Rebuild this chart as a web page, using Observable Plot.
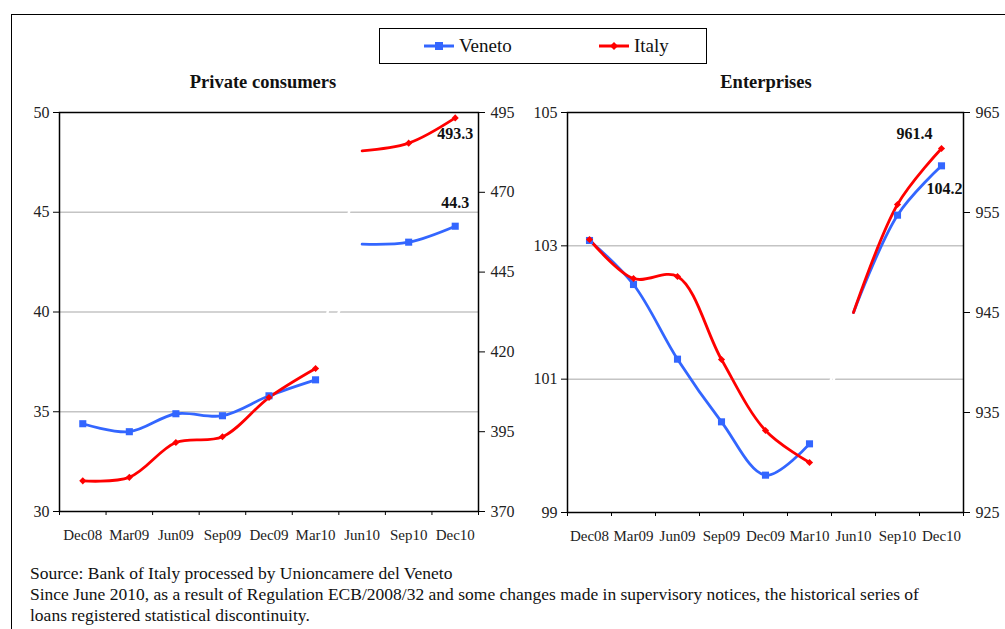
<!DOCTYPE html>
<html>
<head>
<meta charset="utf-8">
<script src="https://cdn.jsdelivr.net/npm/d3@7"></script>
<script src="https://cdn.jsdelivr.net/npm/@observablehq/plot@0.6"></script>
<style>
  html, body { margin: 0; padding: 0; background: #fff; }
  body { width: 1005px; height: 629px; position: relative; overflow: hidden; font-family: "Liberation Serif", "DejaVu Serif", serif; color: #111; }
  #outer { position: absolute; left: 11px; top: 14px; width: 1100px; height: 700px; border: 1.5px solid #000; box-sizing: border-box; }
  #legend { position: absolute; left: 379px; top: 28px; width: 328px; height: 36px; border: 1.5px solid #000; box-sizing: border-box; }
  .leg { position: absolute; top: 6px; font-size: 19px; display: flex; align-items: center; }
  .title { position: absolute; top: 72px; font-size: 18.5px; font-weight: bold; transform: translateX(-50%); white-space: nowrap; }
  .panel { position: absolute; top: 100px; }
  #notes { position: absolute; left: 30px; top: 563px; font-size: 17.5px; line-height: 21px; white-space: nowrap; }
</style>
</head>
<body>
<div id="outer"></div>
<div id="legend"></div>
<div class="title" style="left:263px">Private consumers</div>
<div class="title" style="left:766px">Enterprises</div>
<div id="left" class="panel" style="left:0px"></div>
<div id="right" class="panel" style="left:500px"></div>
<div id="notes"></div>
<script>
// ---- data ----
const months = ["Dec08","Mar09","Jun09","Sep09","Dec09","Mar10","Jun10","Sep10","Dec10"];
const seriesNames = ["Veneto", "Italy"];
const seriesColors = ["#3366ff", "#ff0000"];
// Private consumers: Veneto (left axis), Italy (right axis)
const consVeneto = [34.4, 34.0, 34.9, 34.8, 35.8, 36.6, 43.4, 43.5, 44.3];
const consItaly  = [379.6, 380.7, 391.6, 393.4, 405.7, 414.8, 483.0, 485.4, 493.3];
const consLeftTicks = [30, 35, 40, 45, 50];
const consRightTicks = [370, 395, 420, 445, 470, 495];
// Enterprises: Veneto (left axis), Italy (right axis)
const entVeneto = [103.08, 102.42, 101.3, 100.36, 99.56, 100.03, 102.0, 103.46, 104.2];
const entItaly  = [952.3, 948.4, 948.6, 940.3, 933.2, 930.0, 945.0, 955.8, 961.4];
const entLeftTicks = [99, 101, 103, 105];
const entRightTicks = [925, 935, 945, 955, 965];
const breakIndex = 6; // statistical discontinuity from Jun10
const consLabels = {veneto: "44.3", italy: "493.3"};
const entLabels = {veneto: "104.2", italy: "961.4"};
const notes = [
  "Source: Bank of Italy processed by Unioncamere del Veneto",
  "Since June 2010, as a result of Regulation ECB/2008/32 and some changes made in supervisory notices, the historical series of",
  "loans registered statistical discontinuity."
];

// ---- legend ----
const legend = document.getElementById("legend");
const legPos = [44, 219];
seriesNames.forEach((name, k) => {
  const d = document.createElement("div");
  d.className = "leg";
  d.style.left = legPos[k] + "px";
  const sym = k === 0
    ? `<rect x="11" y="4" width="8" height="8" fill="${seriesColors[k]}"/>`
    : `<path d="M15 4 L19 8 L15 12 L11 8 Z" fill="${seriesColors[k]}"/>`;
  d.innerHTML = `<svg width="32" height="16"><line x1="0" x2="30" y1="8" y2="8" stroke="${seriesColors[k]}" stroke-width="3"/>${sym}</svg><span style="margin-left:3px">${name}</span>`;
  legend.appendChild(d);
});

document.getElementById("notes").innerHTML = notes.map(n => `<div>${n}</div>`).join("");

function panel({veneto, italy, leftTicks, rightTicks, labels, width, marginLeft, marginRight, marginBottom, labelOff}) {
  const lMin = leftTicks[0], lMax = leftTicks[leftTicks.length - 1];
  const rMin = rightTicks[0], rMax = rightTicks[rightTicks.length - 1];
  const toLeft = v => lMin + (v - rMin) * (lMax - lMin) / (rMax - rMin);
  const toRight = v => rMin + (v - lMin) * (rMax - rMin) / (lMax - lMin);
  const rows = [];
  months.forEach((m, i) => {
    rows.push({i, s: 0, seg: i < breakIndex ? 0 : 1, y: veneto[i]});
    rows.push({i, s: 1, seg: i < breakIndex ? 0 : 1, y: toLeft(italy[i])});
  });
  const bridge = rows.filter(r => r.i === breakIndex - 1 || r.i === breakIndex);
  const markers = rows.filter(r => r.i !== breakIndex);
  const last = months.length - 1;
  const grid = leftTicks.slice(1, -1);
  const lineOpts = s => ({
    x: "i", y: "y", z: "seg", stroke: seriesColors[s], strokeWidth: 2.8, curve: "catmull-rom"
  });
  return Plot.plot({
    width, height: 450,
    marginLeft, marginRight, marginTop: 12, marginBottom,
    style: {fontFamily: "Liberation Serif, serif", fontSize: "16px", color: "#222", background: "transparent"},
    x: {domain: [-0.5, months.length - 0.5]},
    y: {domain: [lMin, lMax]},
    marks: [
      Plot.ruleY(grid, {stroke: "#c4c4c4", strokeWidth: 1.5}),
      Plot.line(bridge, {x: "i", y: "y", z: "s", stroke: "white", strokeWidth: 2.5}),
      Plot.line(rows.filter(r => r.s === 0), lineOpts(0)),
      Plot.line(rows.filter(r => r.s === 1), lineOpts(1)),
      Plot.dot(markers.filter(r => r.s === 0), {x: "i", y: "y", symbol: "square", r: 4, fill: seriesColors[0]}),
      Plot.dot(markers.filter(r => r.s === 1), {x: "i", y: "y", symbol: "diamond2", r: 3.2, fill: seriesColors[1]}),
      Plot.text([{i: last, y: toLeft(italy[last]), t: labels.italy}], {x: "i", y: "y", text: "t", dx: labelOff.italy[0], dy: labelOff.italy[1], fontWeight: "bold", fontSize: 16, fill: "#111"}),
      Plot.text([{i: last, y: veneto[last], t: labels.veneto}], {x: "i", y: "y", text: "t", dx: labelOff.veneto[0], dy: labelOff.veneto[1], fontWeight: "bold", fontSize: 16, fill: "#111"}),
      Plot.axisY({ticks: leftTicks, tickSize: 6, tickPadding: 4, tickFormat: d => String(d), stroke: "#000", fill: "#222", label: null}),
      Plot.axisY({anchor: "right", ticks: rightTicks.map(toLeft), tickSize: 6, tickPadding: 6, tickFormat: d => String(Math.round(toRight(d))), stroke: "#000", fill: "#222", label: null}),
      Plot.axisX({ticks: d3.range(months.length + 1).map(i => i - 0.5), tickSize: 4, tickFormat: () => "", stroke: "#000", label: null}),
      Plot.axisX({ticks: d3.range(months.length), tickSize: 0, tickPadding: 18, tickFormat: i => months[i], fontSize: 15, fill: "#222", label: null}),
      Plot.frame({stroke: "#000", strokeWidth: 1.5})
    ]
  });
}

document.getElementById("left").appendChild(panel({
  veneto: consVeneto, italy: consItaly, leftTicks: consLeftTicks, rightTicks: consRightTicks,
  labels: consLabels, width: 520, marginLeft: 59, marginRight: 42, marginBottom: 39,
  labelOff: {italy: [0, 16], veneto: [0, -23]}
}));
document.getElementById("right").appendChild(panel({
  veneto: entVeneto, italy: entItaly, leftTicks: entLeftTicks, rightTicks: entRightTicks,
  labels: entLabels, width: 505, marginLeft: 67, marginRight: 42, marginBottom: 38,
  labelOff: {italy: [-27, -15], veneto: [3, 23]}
}));
</script>
</body>
</html>
